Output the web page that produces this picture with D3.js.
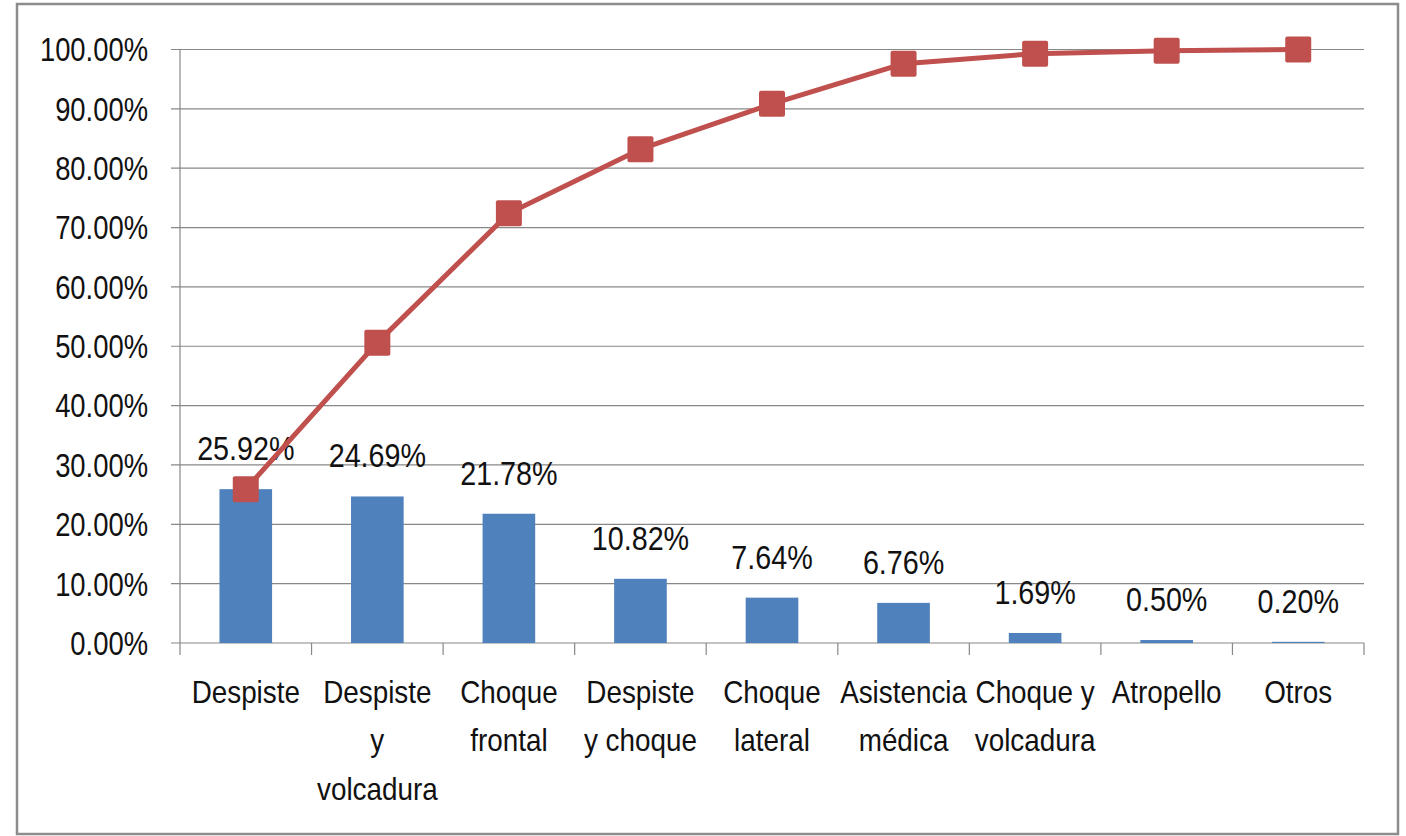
<!DOCTYPE html>
<html>
<head>
<meta charset="utf-8">
<script src="https://cdn.jsdelivr.net/npm/d3@7"></script>
<style>
  html, body { margin: 0; padding: 0; background: #ffffff; }
  svg text { font-family: "Liberation Sans Narrow", "Arial Narrow", "Liberation Sans", sans-serif; fill: #111; }
</style>
</head>
<body>
<svg id="chart" width="1406" height="836"></svg>
<script>
const categories = ["Despiste", "Despiste\ny\nvolcadura", "Choque\nfrontal", "Despiste\ny choque", "Choque\nlateral", "Asistencia\nmédica", "Choque y\nvolcadura", "Atropello", "Otros"];
const barValues = [25.92, 24.69, 21.78, 10.82, 7.64, 6.76, 1.69, 0.50, 0.20];
const barLabels = ["25.92%", "24.69%", "21.78%", "10.82%", "7.64%", "6.76%", "1.69%", "0.50%", "0.20%"];
const cumulativeValues = [25.92, 50.61, 72.39, 83.21, 90.85, 97.61, 99.30, 99.80, 100.00];
const yTicks = [0, 10, 20, 30, 40, 50, 60, 70, 80, 90, 100];
const yTickLabels = ["0.00%", "10.00%", "20.00%", "30.00%", "40.00%", "50.00%", "60.00%", "70.00%", "80.00%", "90.00%", "100.00%"];

(function () {
const svg = d3.select("#chart");
const pL = 180, pR = 1364, pT = 49.5, pB = 643;
const tf = (tx, ty, sx) => `translate(${tx},${ty}) scale(${sx},1)`;

// outer border
svg.append("rect").attr("x", 17).attr("y", 4).attr("width", 1381).attr("height", 830)
  .attr("fill", "#fff").attr("stroke", "#8c8c8c").attr("stroke-width", 2.5);

const x = d3.scaleBand().domain(d3.range(categories.length)).range([pL, pR]).paddingInner(0).paddingOuter(0);
const y = d3.scaleLinear().domain([0, 100]).range([pB, pT]);

// gridlines
svg.append("g").selectAll("line").data(yTicks).join("line")
  .attr("x1", pL - 9).attr("x2", pR)
  .attr("y1", d => y(d)).attr("y2", d => y(d))
  .attr("stroke", "#888").attr("stroke-width", 1.2);

// y axis line
svg.append("line").attr("x1", pL).attr("x2", pL).attr("y1", pT).attr("y2", pB)
  .attr("stroke", "#888").attr("stroke-width", 1.2);

// y tick labels
svg.append("g").selectAll("text").data(yTicks).join("text")
  .attr("transform", d => tf(148, y(d), 0.83)).attr("dy", "0.36em")
  .attr("text-anchor", "end").attr("font-size", 33)
  .text((d, i) => yTickLabels[i]);

// x axis ticks
const xTickPos = d3.range(categories.length + 1).map(i => pL + i * x.bandwidth());
svg.append("g").selectAll("line").data(xTickPos).join("line")
  .attr("x1", d => d).attr("x2", d => d).attr("y1", pB).attr("y2", pB + 12)
  .attr("stroke", "#888").attr("stroke-width", 1.2);

// bars
const bw = x.bandwidth() * 0.4;
svg.append("g").selectAll("rect").data(barValues).join("rect")
  .attr("x", (d, i) => x(i) + x.bandwidth() / 2 - bw / 2)
  .attr("y", d => y(d))
  .attr("width", bw)
  .attr("height", d => pB - y(d))
  .attr("fill", "#4F81BD");

// bar labels
svg.append("g").selectAll("text").data(barValues).join("text")
  .attr("transform", (d, i) => tf(x(i) + x.bandwidth() / 2, y(d) - 29, 0.87))
  .attr("text-anchor", "middle").attr("font-size", 33)
  .text((d, i) => barLabels[i]);

// x labels
const xl = svg.append("g").selectAll("text").data(categories).join("text")
  .attr("text-anchor", "middle").attr("font-size", 32)
  .attr("transform", (d, i) => tf(x(i) + x.bandwidth() / 2, 703, 0.87));
xl.each(function(d, i) {
  const lines = d.split("\n");
  const t = d3.select(this);
  lines.forEach((ln, j) => {
    t.append("tspan").attr("x", 0).attr("y", j * 48.5).text(ln);
  });
});

// cumulative line
const line = d3.line().x((d, i) => x(i) + x.bandwidth() / 2).y(d => y(d));
svg.append("path").datum(cumulativeValues).attr("d", line)
  .attr("fill", "none").attr("stroke", "#C0504D").attr("stroke-width", 5).attr("stroke-linejoin", "round");

const ms = 26;
svg.append("g").selectAll("rect").data(cumulativeValues).join("rect")
  .attr("x", (d, i) => x(i) + x.bandwidth() / 2 - ms / 2)
  .attr("y", d => y(d) - ms / 2)
  .attr("width", ms).attr("height", ms).attr("rx", 2)
  .attr("fill", "#C0504D");
})();
</script>
</body>
</html>
